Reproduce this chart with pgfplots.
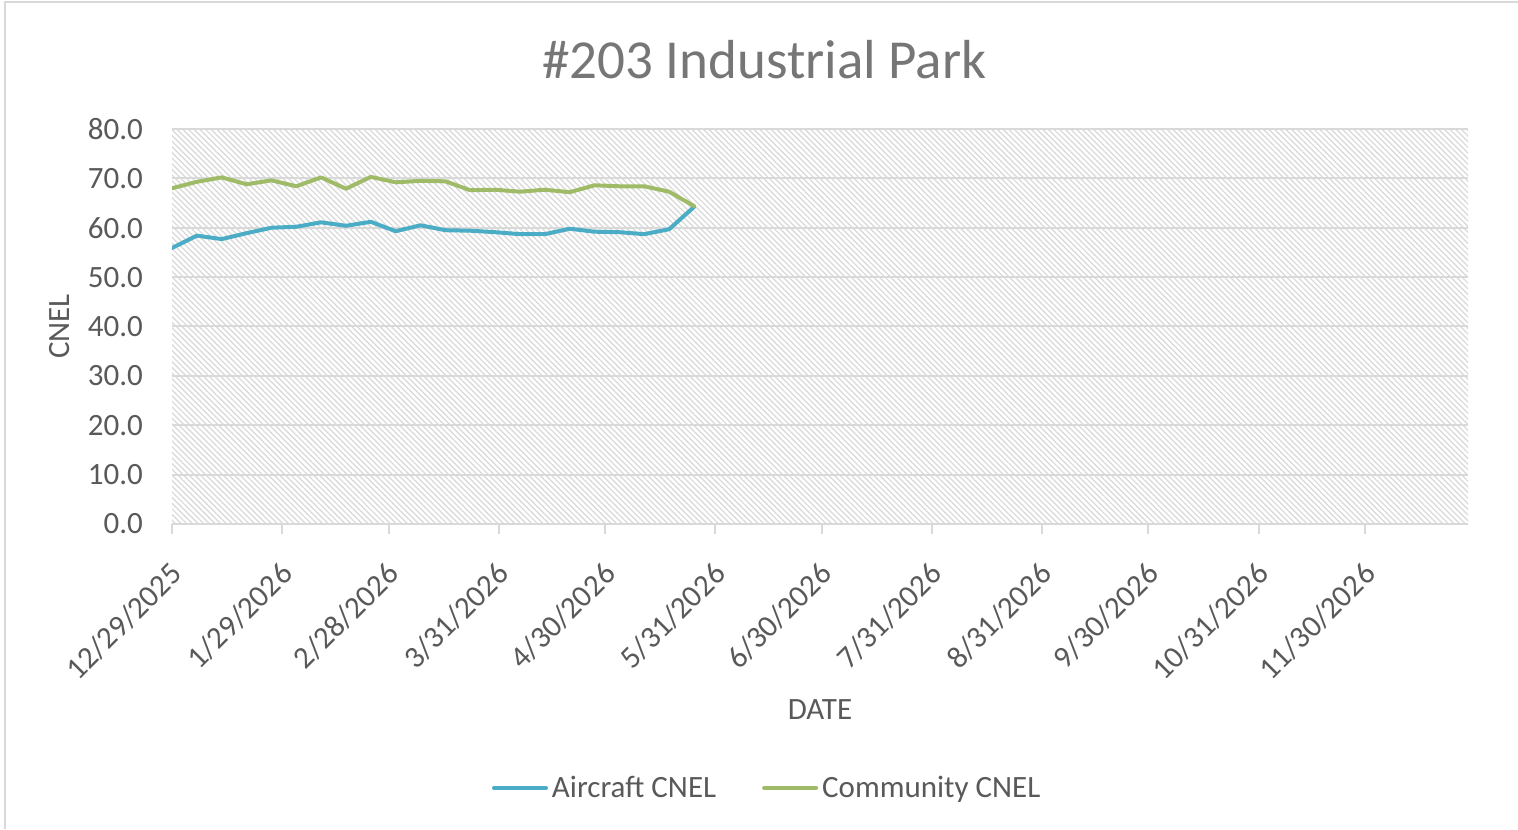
\documentclass[border=0pt]{standalone}
\usepackage{fontspec}
\setmainfont{Carlito}
\usepackage{pgfplots}
\pgfplotsset{compat=1.18}
\usetikzlibrary{patterns.meta}
\definecolor{aircraft}{HTML}{4BACC6}
\definecolor{community}{HTML}{9FBB68}
\definecolor{lbl}{HTML}{595959}
\definecolor{ttl}{HTML}{767676}
\definecolor{gridc}{HTML}{D9D9D9}
\definecolor{hatch}{HTML}{D8D8D8}
\pgfplotstableread{
day aircraft community
0   55.9 68.0
7   58.4 69.3
14  57.7 70.2
21  58.9 68.8
28  60.0 69.6
35  60.2 68.4
42  61.1 70.2
49  60.4 67.9
56  61.2 70.3
63  59.3 69.2
70  60.5 69.5
77  59.5 69.4
84  59.4 67.6
91  59.1 67.7
98  58.7 67.3
105 58.7 67.7
112 59.8 67.2
119 59.2 68.6
126 59.1 68.4
133 58.7 68.4
140 59.7 67.3
147 64.2 64.4
}\cneldata
\begin{document}
\begin{tikzpicture}
\useasboundingbox (0,0) rectangle (759pt,414.5pt);
\draw[gridc, line width=1pt] (2.5pt,0) -- (2.5pt,413.5pt) -- (759pt,413.5pt);
\begin{axis}[
  at={(86pt,152.5pt)}, anchor=south west,
  scale only axis, width=648pt, height=197.5pt,
  xmin=0, xmax=365, ymin=0, ymax=80,
  axis background/.style={preaction={fill=white}, pattern={Lines[angle=-45,distance=2pt,line width=0.6pt]}, pattern color=hatch},
  axis x line*=bottom, axis y line*=left,
  x axis line style={gridc, line width=1pt, -},
  y axis line style={draw=none},
  xtick={0,31,61,92,122,153,183,214,245,275,306,336},
  xticklabels={12/29/2025,1/29/2026,2/28/2026,3/31/2026,4/30/2026,5/31/2026,6/30/2026,7/31/2026,8/31/2026,9/30/2026,10/31/2026,11/30/2026},
  x tick style={gridc, line width=1pt},
  tick align=outside, major tick length=5pt,
  ytick={0,10,...,80},
  y tick style={draw=none},
  yticklabel={\pgfmathprintnumber[fixed,fixed zerofill,precision=1]{\tick}},
  ymajorgrids, grid style={gridc, line width=1pt},
  /pgf/number format/assume math mode=true,
  tick label style={font=\fontsize{15.5}{18}\selectfont, text=lbl},
  xticklabel style={rotate=45, anchor=east, yshift=-14pt, xshift=-7pt},
  yticklabel style={xshift=-6pt},
  xlabel={DATE}, ylabel={CNEL},
  every axis x label/.style={at={(axis description cs:0.5,-0.471)}, anchor=center, font=\fontsize{15.5}{18}\selectfont, text=lbl},
  every axis y label/.style={at={(axis description cs:-0.0864,0.5)}, rotate=90, anchor=center, font=\fontsize{15.5}{18}\selectfont, text=lbl},
  title={\#203 Industrial Park},
  title style={font=\fontsize{27.5}{32}\selectfont, text=ttl, at={(axis description cs:0.457,1.145)}, anchor=center},
  legend columns=2,
  legend style={at={(axis description cs:0.46,-0.668)}, anchor=center, draw=none, fill=none,
    font=\fontsize{15.5}{18}\selectfont, text=lbl,
    /tikz/every even column/.append style={column sep=21pt}},
  legend image code/.code={\draw[#1] (0pt,0pt) -- (26pt,0pt);},
  every axis plot/.append style={line width=2pt, line join=round, line cap=round},
]
\addplot[aircraft, mark=none] table[x=day, y=aircraft] {\cneldata};
\addlegendentry{Aircraft CNEL}
\addplot[community, mark=none] table[x=day, y=community] {\cneldata};
\addlegendentry{Community CNEL}
\end{axis}
\end{tikzpicture}
\end{document}
